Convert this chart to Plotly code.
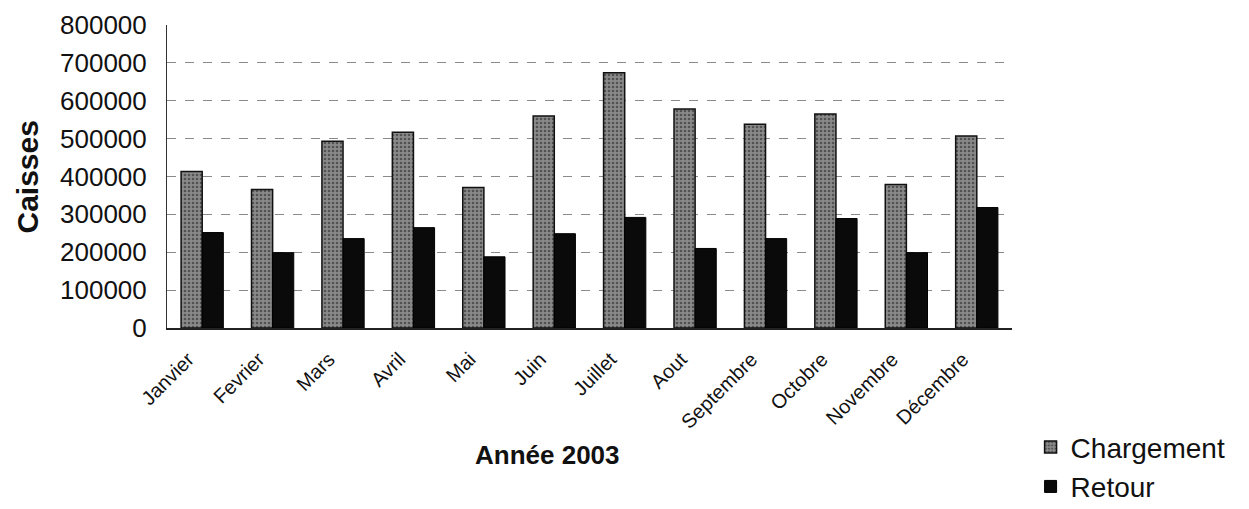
import plotly.graph_objects as go

months = ["Janvier", "Fevrier", "Mars", "Avril", "Mai", "Juin", "Juillet",
          "Aout", "Septembre", "Octobre", "Novembre", "Décembre"]
chargement = [413000, 366000, 493000, 517000, 371000, 560000, 674000,
              578000, 538000, 565000, 379000, 507000]
retour = [252000, 199000, 236000, 265000, 188000, 249000, 292000,
          210000, 236000, 289000, 199000, 318000]
y_ticks = [0, 100000, 200000, 300000, 400000, 500000, 600000, 700000, 800000]

FONT = "Liberation Sans, Arial, sans-serif"

fig = go.Figure()
fig.add_trace(go.Bar(
    name="Chargement", x=months, y=chargement,
    marker=dict(color="#8a8a8a", line=dict(color="#111111", width=1.5),
                pattern=dict(shape=".", fgcolor="#1a1a1a", size=4, solidity=0.35)),
))
fig.add_trace(go.Bar(
    name="Retour", x=months, y=retour,
    marker=dict(color="#0a0a0a", line=dict(color="#000000", width=1)),
))

fig.update_layout(
    width=1241, height=501,
    paper_bgcolor="white", plot_bgcolor="white",
    barmode="group", bargap=0.40, bargroupgap=0,
    margin=dict(l=159, r=237, t=17, b=181),
    font=dict(family=FONT, color="#111111"),
    showlegend=True,
    legend=dict(x=0.824, y=0.173, xref="container", yref="container",
                xanchor="left", yanchor="top",
                font=dict(size=28, family=FONT, color="#111111"),
                bgcolor="rgba(0,0,0,0)", itemwidth=30),
    xaxis=dict(
        tickangle=-45, tickfont=dict(size=20, family=FONT),
        showline=True, linecolor="#222222", linewidth=1.5,
        ticks="", showgrid=False, automargin=False,
        ticklabelstandoff=10, ticklabelshift=-14,
    ),
    yaxis=dict(
        range=[0, 800000], tickvals=y_ticks, ticktext=[str(v) for v in y_ticks],
        tickfont=dict(size=26, family=FONT),
        showline=True, linecolor="#333333", linewidth=1,
        showgrid=True, gridcolor="#8a8a8a", gridwidth=1, griddash="dash",
        ticks="", zeroline=False, automargin=False, ticklabelstandoff=14,
    ),
    annotations=[
        dict(text="<b>Caisses</b>", x=-0.1645, y=0.5, xref="paper", yref="paper",
             textangle=-90, showarrow=False, font=dict(size=30, family=FONT, color="#111111"),
             xanchor="center", yanchor="middle", borderpad=0),
        dict(text="<b>Année 2003</b>", x=0.450, y=-0.419, xref="paper", yref="paper",
             showarrow=False, font=dict(size=26, family=FONT, color="#111111"),
             xanchor="center", yanchor="middle"),
    ],
)

fig.write_html("out.html")
